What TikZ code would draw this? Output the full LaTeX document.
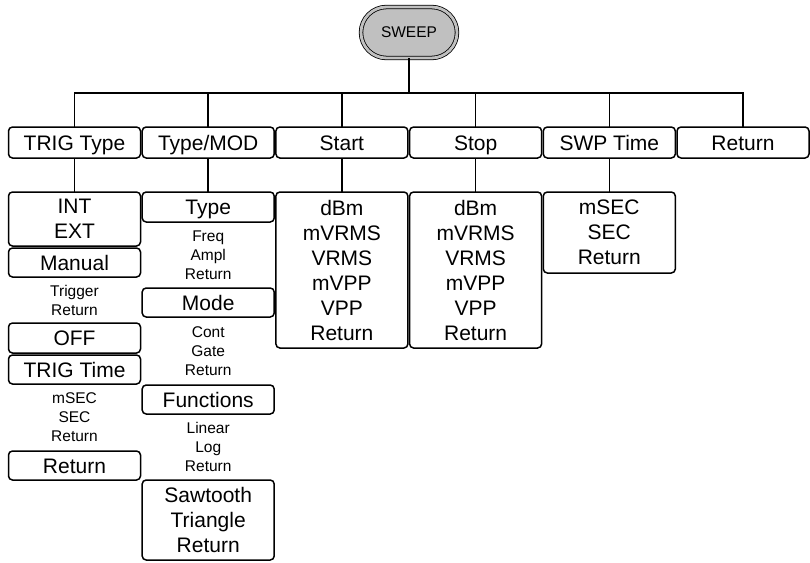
\documentclass[tikz,border=0pt]{standalone}
\usepackage{fontspec}
\setmainfont{Liberation Sans}
\usepackage{xcolor}
\usetikzlibrary{positioning, calc, shapes.misc}
\definecolor{keyGray}{HTML}{C0C0C0}
\newcommand{\boxfont}{\fontsize{21}{25}\selectfont}
\newcommand{\notefont}{\fontsize{15.5}{19}\selectfont}
\tikzset{
  menubox/.style = {rectangle, rounded corners=4pt, draw=black,
                    line width=1.5pt, minimum width=132pt, inner sep=0pt,
                    outer sep=0pt, align=center, font=\boxfont},
  onerow/.style  = {text height=15pt, text depth=0pt},
  note/.style    = {inner sep=0pt, align=center, font=\notefont},
  softkey/.style = {rounded rectangle, draw=black, line width=0.8pt,
                    double=keyGray, double distance=2.8pt, fill=keyGray,
                    minimum width=96pt, minimum height=51pt, inner sep=0pt,
                    outer sep=0pt, font=\notefont},
  link/.style    = {line width=1.5pt},
}

\begin{document}
\begin{tikzpicture}[x=1pt, y=-1pt]
\useasboundingbox (0,0) rectangle (810,562);

\node[softkey] (sweep) at (409,32.5) {SWEEP};

% first row of soft keys
\node[menubox, onerow, minimum height=31pt] (trig) at (74.5,142.5) {TRIG Type};
\node[menubox, onerow, minimum height=31pt, right=1.7pt of trig]  (type)  {Type/MOD};
\node[menubox, onerow, minimum height=31pt, right=1.7pt of type]  (start) {Start};
\node[menubox, onerow, minimum height=31pt, right=1.7pt of start] (stop)  {Stop};
\node[menubox, onerow, minimum height=31pt, right=1.7pt of stop]  (swp)   {SWP Time};
\node[menubox, onerow, minimum height=31pt, right=1.7pt of swp]   (ret)   {Return};

% TRIG Type
\node[menubox, minimum height=54pt, below=34pt of trig]            (intext)   {INT\\EXT};
\node[menubox, onerow, minimum height=29pt, below=2pt of intext]    (manual)   {Manual};
\node[menubox, onerow, minimum height=30pt, below=46pt of manual]   (off)      {OFF};
\node[menubox, onerow, minimum height=29pt, below=2pt of off]       (trigtime) {TRIG Time};
\node[menubox, onerow, minimum height=29pt, below=67pt of trigtime] (trigret)  {Return};
\node[note] (trigopt) at ($(manual.south)!0.5!(off.north)$)       {Trigger\\Return};
\node[note] (timeopt) at ($(trigtime.south)!0.5!(trigret.north)$) {mSEC\\SEC\\Return};

% Type/MOD
\node[menubox, onerow, minimum height=30pt, below=34pt of type]  (wtype) {Type};
\node[menubox, onerow, minimum height=29pt, below=66pt of wtype] (mode)  {Mode};
\node[menubox, onerow, minimum height=29pt, below=68pt of mode]  (func)  {Functions};
\node[menubox, minimum height=80pt, below=66pt of func]  (shape) {Sawtooth\\Triangle\\Return};
\node[note] (typeopt) at ($(wtype.south)!0.5!(mode.north)$) {Freq\\Ampl\\Return};
\node[note] (modeopt) at ($(mode.south)!0.5!(func.north)$)  {Cont\\Gate\\Return};
\node[note] (funcopt) at ($(func.south)!0.5!(shape.north)$) {Linear\\Log\\Return};

% Start, Stop, SWP Time
\node[menubox, minimum height=156pt, below=34pt of start] (startunit) {dBm\\mVRMS\\VRMS\\mVPP\\VPP\\Return};
\node[menubox, minimum height=156pt, below=34pt of stop]  (stopunit)  {dBm\\mVRMS\\VRMS\\mVPP\\VPP\\Return};
\node[menubox, minimum height=81pt, below=34pt of swp]    (swpunit)   {mSEC\\SEC\\Return};

\foreach \k in {trig,type,start,stop,swp,ret}
  \draw[link] (sweep.south) -- ++(0,35) -| (\k.north);

\draw[link] (trig.south)  -- (intext.north);
\draw[link] (type.south)  -- (wtype.north);
\draw[link] (start.south) -- (startunit.north);
\draw[link] (stop.south)  -- (stopunit.north);
\draw[link] (swp.south)   -- (swpunit.north);

\end{tikzpicture}
\end{document}
